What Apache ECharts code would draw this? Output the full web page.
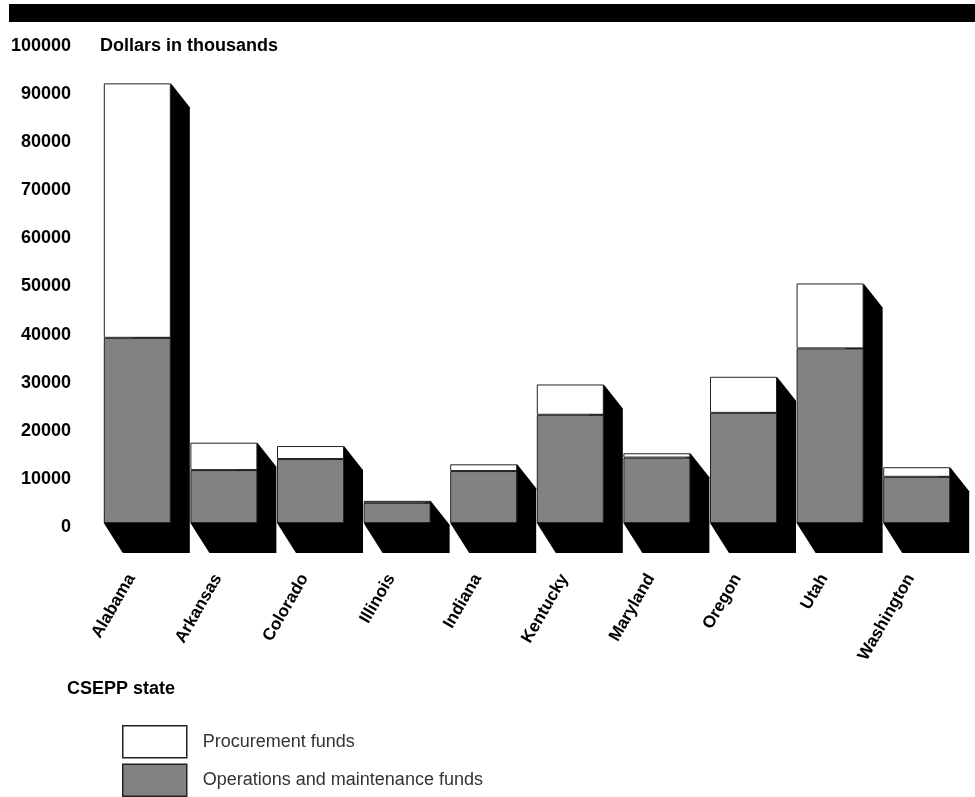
<!DOCTYPE html>
<html lang="en">

<head>
    <meta charset="UTF-8">
    <title>CSEPP funds by state</title>
    <script src="https://cdn.jsdelivr.net/npm/echarts@6/dist/echarts.min.js"></script>
    <style>
        html, body { margin: 0; padding: 0; background: #fff; }
        #main { width: 975px; height: 797px; }
    </style>
</head>

<body>
    <div id="main"></div>
    <script>
        var states = ['Alabama', 'Arkansas', 'Colorado', 'Illinois', 'Indiana',
            'Kentucky', 'Maryland', 'Oregon', 'Utah', 'Washington'];

        // dollars in thousands
        var opsFunds = [38500, 11000, 13300, 4200, 10800, 22500, 13600, 22900, 36300, 9600];
        var procFunds = [52900, 5700, 2700, 400, 1400, 6300, 900, 7500, 13500, 2000];

        var yTicks = { min: 0, max: 100000, interval: 10000 };

        var BAR_W = 67;
        var DX = 19, DY_TOP = 24, DY_BOT = 30;   // fake 3d shadow offsets
        var FONT = 'Liberation Sans, Arial, sans-serif';

        var shadowData = [];
        for (var i = 0; i < states.length; i++) {
            shadowData.push([i, opsFunds[i] + procFunds[i]]);
        }

        function renderShadow(params, api) {
            var top = api.coord([api.value(0), api.value(1)]);
            var base = api.coord([api.value(0), 0]);
            var x0 = top[0] - BAR_W / 2;
            var x1 = top[0] + BAR_W / 2;
            return {
                type: 'polygon',
                shape: {
                    points: [
                        [x1, top[1]],
                        [x1 + DX, top[1] + DY_TOP],
                        [x1 + DX, base[1] + DY_BOT],
                        [x0 + DX, base[1] + DY_BOT],
                        [x0, base[1]]
                    ]
                },
                style: { fill: '#000' }
            };
        }

        var chart = echarts.init(document.getElementById('main'));

        var option = {
            animation: false,
            backgroundColor: '#fff',
            textStyle: { fontFamily: FONT },
            graphic: [{
                type: 'rect',
                left: 9,
                top: 4,
                shape: { width: 966, height: 18 },
                style: { fill: '#000' }
            }],
            title: [{
                text: 'Dollars in thousands',
                left: 100,
                top: 37,
                padding: 0,
                textStyle: { fontSize: 18, fontWeight: 'bold', color: '#000', fontFamily: FONT }
            }, {
                text: 'CSEPP state',
                left: 67,
                top: 680,
                padding: 0,
                textStyle: { fontSize: 18, fontWeight: 'bold', color: '#000', fontFamily: FONT }
            }],
            legend: {
                data: ['Procurement funds', 'Operations and maintenance funds'],
                orient: 'vertical',
                left: 122,
                top: 725,
                padding: 0,
                itemWidth: 64,
                itemHeight: 32,
                itemGap: 5,
                icon: 'rect',
                selectedMode: false,
                itemStyle: { borderColor: '#222', borderWidth: 1.5 },
                textStyle: { fontSize: 18, color: '#333', fontFamily: FONT, padding: [0, 0, 0, 11] }
            },
            grid: {
                left: 94,
                right: 15,
                top: 42,
                bottom: 274
            },
            xAxis: {
                type: 'category',
                data: states,
                axisLine: { show: false },
                axisTick: { show: false },
                axisLabel: {
                    rotate: 60,
                    margin: 42,
                    interval: 0,
                    formatter: function (v) { return '{s|' + v + '}'; },
                    rich: {
                        s: {
                            fontSize: 17,
                            fontWeight: 'bold',
                            color: '#000',
                            fontFamily: FONT,
                            padding: [0, 12, 0, 0]
                        }
                    }
                }
            },
            yAxis: {
                type: 'value',
                min: yTicks.min,
                max: yTicks.max,
                interval: yTicks.interval,
                splitLine: { show: false },
                axisLine: { show: false },
                axisTick: { show: false },
                axisLabel: {
                    margin: 23,
                    formatter: function (v) { return '{n|' + v + '}'; },
                    rich: {
                        n: {
                            fontSize: 18,
                            fontWeight: 'bold',
                            color: '#000',
                            fontFamily: FONT,
                            padding: [8, 0, 0, 0]
                        }
                    }
                }
            },
            series: [
                {
                    name: 'shadow',
                    type: 'custom',
                    renderItem: renderShadow,
                    data: shadowData,
                    encode: { x: 0, y: 1 },
                    z: 1,
                    silent: true
                },
                {
                    name: 'Operations and maintenance funds',
                    type: 'bar',
                    stack: 'funds',
                    barWidth: BAR_W,
                    data: opsFunds,
                    z: 3,
                    itemStyle: { color: '#828282', borderColor: '#222', borderWidth: 1 }
                },
                {
                    name: 'Procurement funds',
                    type: 'bar',
                    stack: 'funds',
                    barWidth: BAR_W,
                    data: procFunds,
                    z: 3,
                    itemStyle: { color: '#fff', borderColor: '#222', borderWidth: 1 }
                }
            ]
        };

        chart.setOption(option);
    </script>
</body>

</html>
